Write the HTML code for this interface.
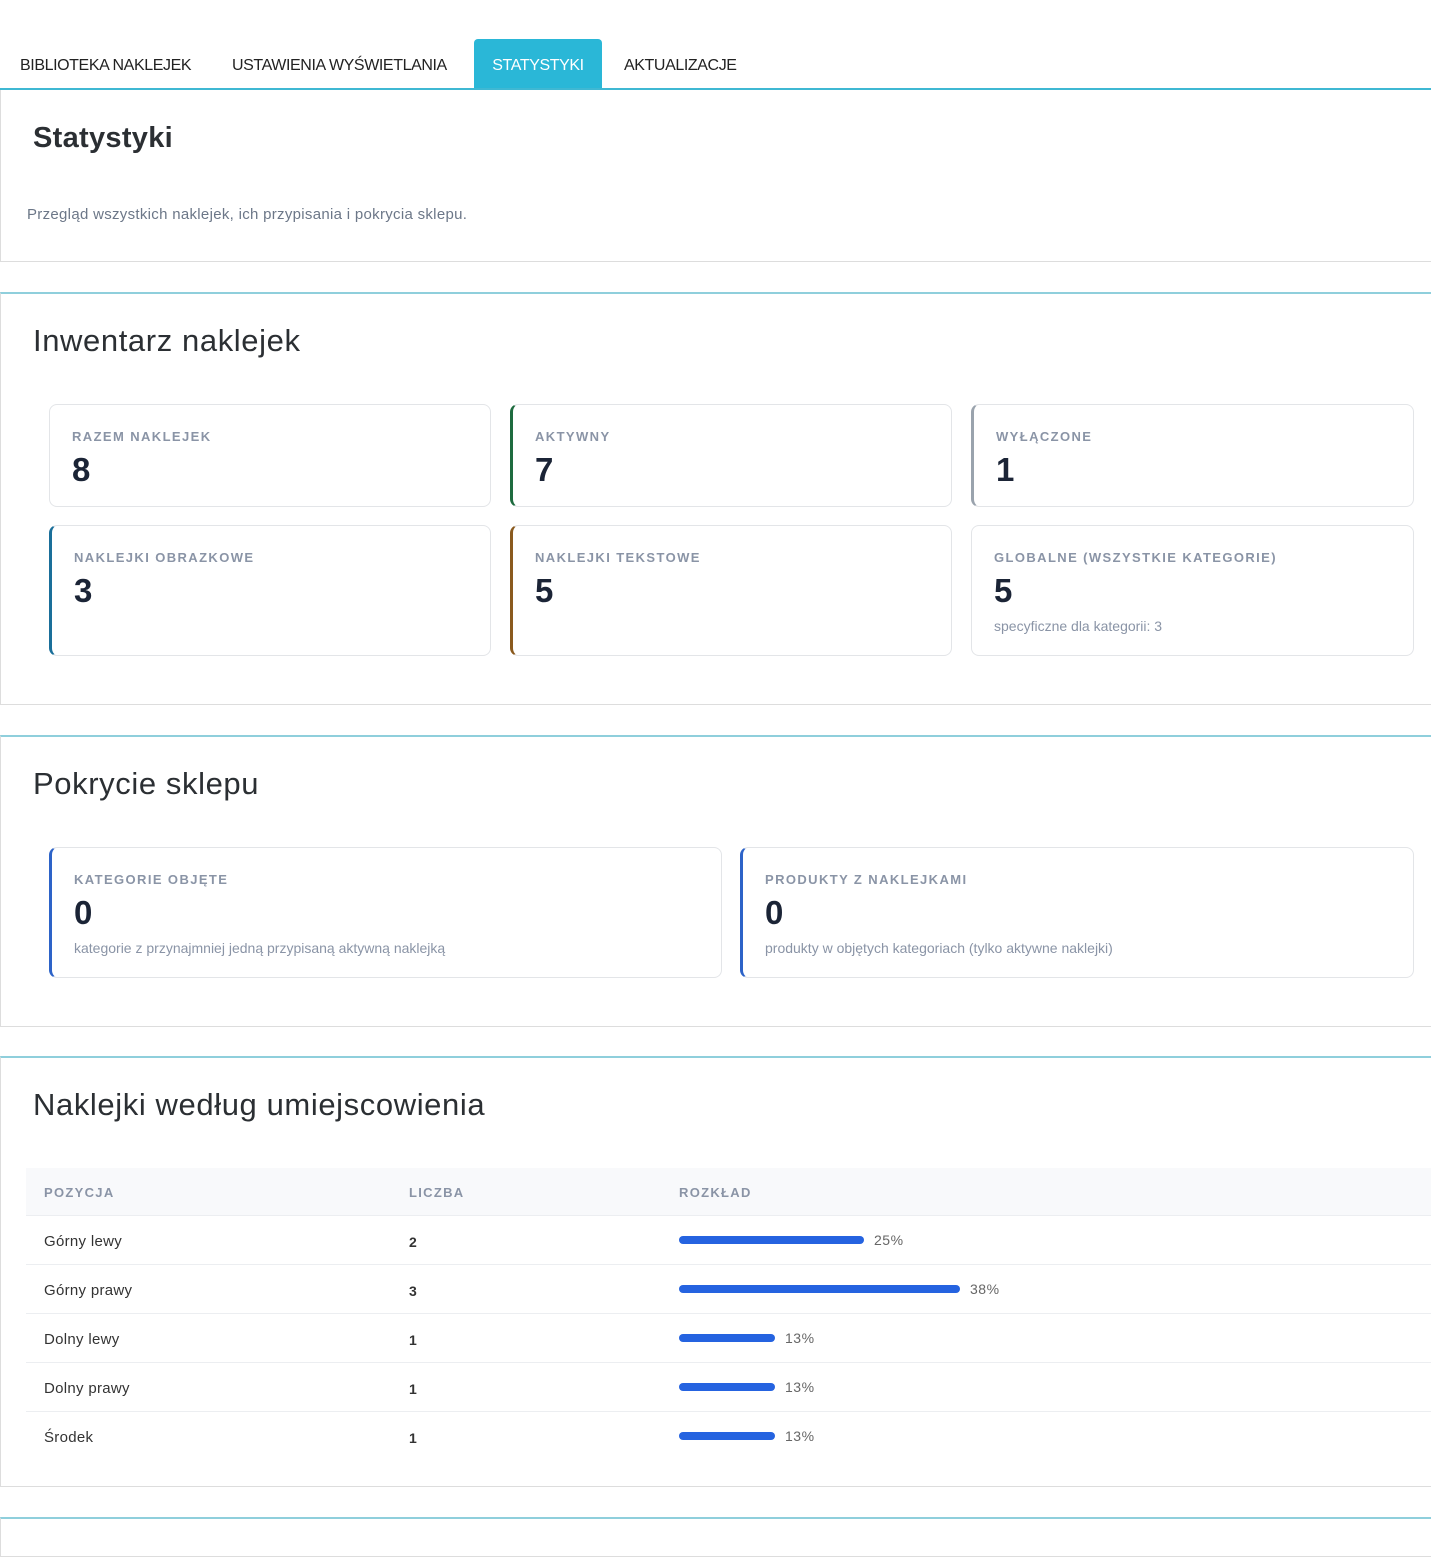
<!DOCTYPE html>
<html><head><meta charset="utf-8"><style>
*{box-sizing:border-box;margin:0;padding:0}
body{width:1431px;height:1522px;overflow:hidden;background:#fff;font-family:"Liberation Sans",sans-serif;color:#333;position:relative}
.abs{position:absolute}
.tab{position:absolute;top:39px;height:50px;line-height:54px;font-size:16px;color:#222;letter-spacing:-0.4px}
.tabline{position:absolute;left:0;top:88px;width:1431px;height:3px;background:#3fb8d3}
.panel{position:absolute;left:0;width:1460px;border:1px solid #ddd;border-top:2px solid #8fcfdc;background:#fff}
h2{position:absolute;left:32px;font-size:31px;font-weight:normal;color:#2b2f33;letter-spacing:0.6px}
.card{position:absolute;border:1px solid #e3e5e8;border-radius:8px;background:#fff}
.card.c{border-left:3px solid}
.lbl{position:absolute;left:22px;top:24px;font-size:13px;font-weight:bold;letter-spacing:1.4px;color:#8a94a6}
.val{position:absolute;left:22px;top:46px;font-size:33px;font-weight:bold;color:#1b2436}
.sub{position:absolute;left:22px;top:92px;font-size:14px;color:#8a94a6}
.th{position:absolute;top:1185px;font-size:13px;font-weight:bold;letter-spacing:1.3px;color:#8a94a6}
.row{position:absolute;left:26px;width:1405px;height:49px;border-top:1px solid #eceef1}
.row span{position:absolute;top:17px;font-size:15px;color:#333;letter-spacing:0.3px}
.row b{position:absolute;left:383px;top:18px;font-size:14px;color:#333}
.bar{position:absolute;left:653px;top:20px;height:8px;border-radius:4px;background:#2563e0}
.pct{position:absolute;top:16px;font-size:14px;color:#666;letter-spacing:0.5px}
</style></head><body>
<div class="tab" style="left:20px">BIBLIOTEKA NAKLEJEK</div>
<div class="tab" style="left:232px">USTAWIENIA WYŚWIETLANIA</div>
<div class="tab" style="left:474px;width:128px;background:#2ab7d7;color:#fff;text-align:center;border-radius:4px 4px 0 0">STATYSTYKI</div>
<div class="tab" style="left:624px">AKTUALIZACJE</div>
<div class="tabline"></div>

<div class="panel" style="top:90px;height:172px;border-top:none">
<h2 style="top:32px;font-weight:bold;font-size:29px;letter-spacing:0.3px">Statystyki</h2>
<div class="abs" style="left:26px;top:116px;font-size:15px;color:#6c7788;letter-spacing:0.3px">Przegląd wszystkich naklejek, ich przypisania i pokrycia sklepu.</div>
</div>

<div class="panel" style="top:292px;height:413px">
<h2 style="top:29px">Inwentarz naklejek</h2>
</div>
<div class="card" style="left:49px;top:404px;width:442px;height:103px"><div class="lbl">RAZEM NAKLEJEK</div><div class="val">8</div></div>
<div class="card c" style="left:510px;top:404px;width:442px;height:103px;border-left-color:#1e6b3f"><div class="lbl">AKTYWNY</div><div class="val">7</div></div>
<div class="card c" style="left:971px;top:404px;width:443px;height:103px;border-left-color:#9aa3ad"><div class="lbl">WYŁĄCZONE</div><div class="val">1</div></div>
<div class="card c" style="left:49px;top:525px;width:442px;height:131px;border-left-color:#1a6f9a"><div class="lbl">NAKLEJKI OBRAZKOWE</div><div class="val">3</div></div>
<div class="card c" style="left:510px;top:525px;width:442px;height:131px;border-left-color:#8a5a1e"><div class="lbl">NAKLEJKI TEKSTOWE</div><div class="val">5</div></div>
<div class="card" style="left:971px;top:525px;width:443px;height:131px"><div class="lbl">GLOBALNE (WSZYSTKIE KATEGORIE)</div><div class="val">5</div><div class="sub">specyficzne dla kategorii: 3</div></div>

<div class="panel" style="top:735px;height:292px">
<h2 style="top:29px">Pokrycie sklepu</h2>
</div>
<div class="card c" style="left:49px;top:847px;width:673px;height:131px;border-left-color:#2d63c8"><div class="lbl">KATEGORIE OBJĘTE</div><div class="val">0</div><div class="sub">kategorie z przynajmniej jedną przypisaną aktywną naklejką</div></div>
<div class="card c" style="left:740px;top:847px;width:674px;height:131px;border-left-color:#2d63c8"><div class="lbl">PRODUKTY Z NAKLEJKAMI</div><div class="val">0</div><div class="sub">produkty w objętych kategoriach (tylko aktywne naklejki)</div></div>

<div class="panel" style="top:1056px;height:431px">
<h2 style="top:29px">Naklejki według umiejscowienia</h2>
</div>
<div class="abs" style="left:26px;top:1168px;width:1405px;height:47px;background:#f8f9fb"></div>
<div class="th" style="left:44px">POZYCJA</div>
<div class="th" style="left:409px">LICZBA</div>
<div class="th" style="left:679px">ROZKŁAD</div>
<div class="row" style="top:1215px"><span style="left:18px">Górny lewy</span><b>2</b><div class="bar" style="width:185px"></div><div class="pct" style="left:848px">25%</div></div>
<div class="row" style="top:1264px"><span style="left:18px">Górny prawy</span><b>3</b><div class="bar" style="width:281px"></div><div class="pct" style="left:944px">38%</div></div>
<div class="row" style="top:1313px"><span style="left:18px">Dolny lewy</span><b>1</b><div class="bar" style="width:96px"></div><div class="pct" style="left:759px">13%</div></div>
<div class="row" style="top:1362px"><span style="left:18px">Dolny prawy</span><b>1</b><div class="bar" style="width:96px"></div><div class="pct" style="left:759px">13%</div></div>
<div class="row" style="top:1411px"><span style="left:18px">Środek</span><b>1</b><div class="bar" style="width:96px"></div><div class="pct" style="left:759px">13%</div></div>

<div class="panel" style="top:1517px;height:40px"></div>
</body></html>
